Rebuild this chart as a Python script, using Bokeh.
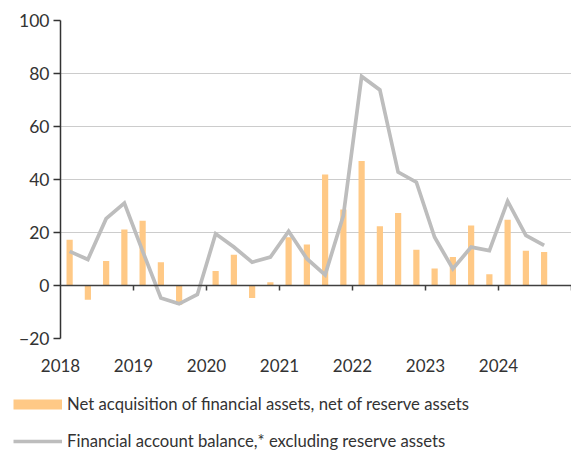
from math import pi
from bokeh.plotting import figure
from bokeh.models import Range1d, FixedTicker, Span, Legend, LegendItem, ColumnDataSource
from bokeh.embed import file_html
from bokeh.resources import INLINE

# ---- data ----
years = [2018, 2019, 2020, 2021, 2022, 2023, 2024]
quarters = [f"{y}Q{q}" for y in years for q in (1, 2, 3, 4)][:27]
net_acquisition = [17.3, -5.4, 9.2, 21.1, 24.4, 8.8, -7.3, 0.2,
                   5.5, 11.6, -4.7, 1.2, 18.2, 15.5, 41.9, 28.7,
                   47.0, 22.4, 27.4, 13.5, 6.4, 10.8, 22.6, 4.2,
                   24.8, 13.1, 12.6]
fin_account = [12.9, 9.8, 25.2, 31.1, 13.0, -4.7, -6.9, -3.4,
               19.5, 14.5, 8.8, 10.7, 20.5, 10.1, 4.0, 26.4,
               78.9, 73.8, 42.8, 39.0, 18.2, 6.3, 14.5, 13.2,
               31.8, 18.9, 15.1]
y_ticks = [-20, 0, 20, 40, 60, 80, 100]
label_bar = "Net acquisition of financial assets, net of reserve assets"
label_line = "Financial account balance,* excluding reserve assets"

# quarter centres on a year axis
xpos = [int(q[:4]) + (int(q[-1]) - 0.5) / 4 for q in quarters]
source = ColumnDataSource(dict(x=xpos, bar=net_acquisition, line=fin_account))

BAR = "#FFC986"
LINE = "#BDBDBD"
TEXT = "#333333"
FONT = "Lato"

p = figure(width=571, height=385,
           x_range=Range1d(years[0], years[-1] + 1), y_range=Range1d(y_ticks[0], y_ticks[-1]),
           output_backend="svg", toolbar_location=None,
           min_border_left=60, min_border_right=0, min_border_top=20, min_border_bottom=47)
p.outline_line_color = None

bars = p.vbar(x="x", top="bar", bottom=0, width=0.085, source=source,
              fill_color=BAR, line_color=None)
line_r = p.line(x="x", y="line", source=source, line_color=LINE, line_width=3.7,
                line_join="miter")

zero = Span(location=0, dimension="width", line_color="#404040", line_width=1.5)
p.add_layout(zero)
boundary_years = years[1:] + [years[-1] + 1]
p.ray(x=boundary_years, y=[0] * len(boundary_years), length=5, length_units="screen",
      angle=-pi / 2, line_color="#404040", line_width=1.5)

# axes
p.xgrid.grid_line_color = None
p.ygrid.grid_line_color = "#cccccc"
p.ygrid.grid_line_width = 1
p.ygrid.ticker = FixedTicker(ticks=y_ticks)

xa = p.xaxis[0]
xa.ticker = FixedTicker(ticks=years)
xa.axis_line_color = None
xa.major_tick_line_color = None
xa.minor_tick_line_color = None
xa.major_tick_out = 0
xa.major_tick_in = 0
xa.major_label_standoff = 20
xa.major_label_text_font = FONT
xa.major_label_text_font_size = "17px"
xa.major_label_text_color = TEXT

ya = p.yaxis[0]
ya.ticker = FixedTicker(ticks=y_ticks)
ya.axis_line_color = "#333333"
ya.axis_line_width = 1.5
ya.major_tick_line_color = "#333333"
ya.major_tick_line_width = 1.5
ya.major_tick_out = 7
ya.major_tick_in = 0
ya.minor_tick_line_color = None
ya.major_label_standoff = 4
ya.major_label_text_font = FONT
ya.major_label_text_font_size = "17.5px"
ya.major_label_text_color = TEXT

# ---- legend panel (separate root, so its frame starts at the left edge) ----
lg = figure(width=571, height=74, x_range=Range1d(0, 1), y_range=Range1d(0, 1),
            output_backend="svg", toolbar_location=None,
            x_axis_type=None, y_axis_type=None,
            min_border_left=0, min_border_right=0, min_border_top=0, min_border_bottom=0)
lg.outline_line_color = None
lg.xgrid.grid_line_color = None
lg.ygrid.grid_line_color = None
# single-point lines: nothing drawn in the panel, only their legend swatches
sw_bar = lg.line(x=[0], y=[0], line_color=BAR, line_width=10, line_cap="butt")
sw_line = lg.line(x=[0], y=[0], line_color=LINE, line_width=3.5, line_cap="butt")

legend = Legend(items=[LegendItem(label=label_bar, renderers=[sw_bar]),
                       LegendItem(label=label_line, renderers=[sw_line])],
                location=(13, 8), orientation="vertical",
                glyph_width=49, glyph_height=20, label_height=20, spacing=17,
                padding=0, margin=0, label_standoff=5,
                border_line_color=None, background_fill_alpha=0,
                label_text_font=FONT, label_text_font_size="16.7px",
                label_text_color=TEXT)
lg.add_layout(legend, "center")

open("out.html", "w").write(file_html([p, lg], INLINE))
